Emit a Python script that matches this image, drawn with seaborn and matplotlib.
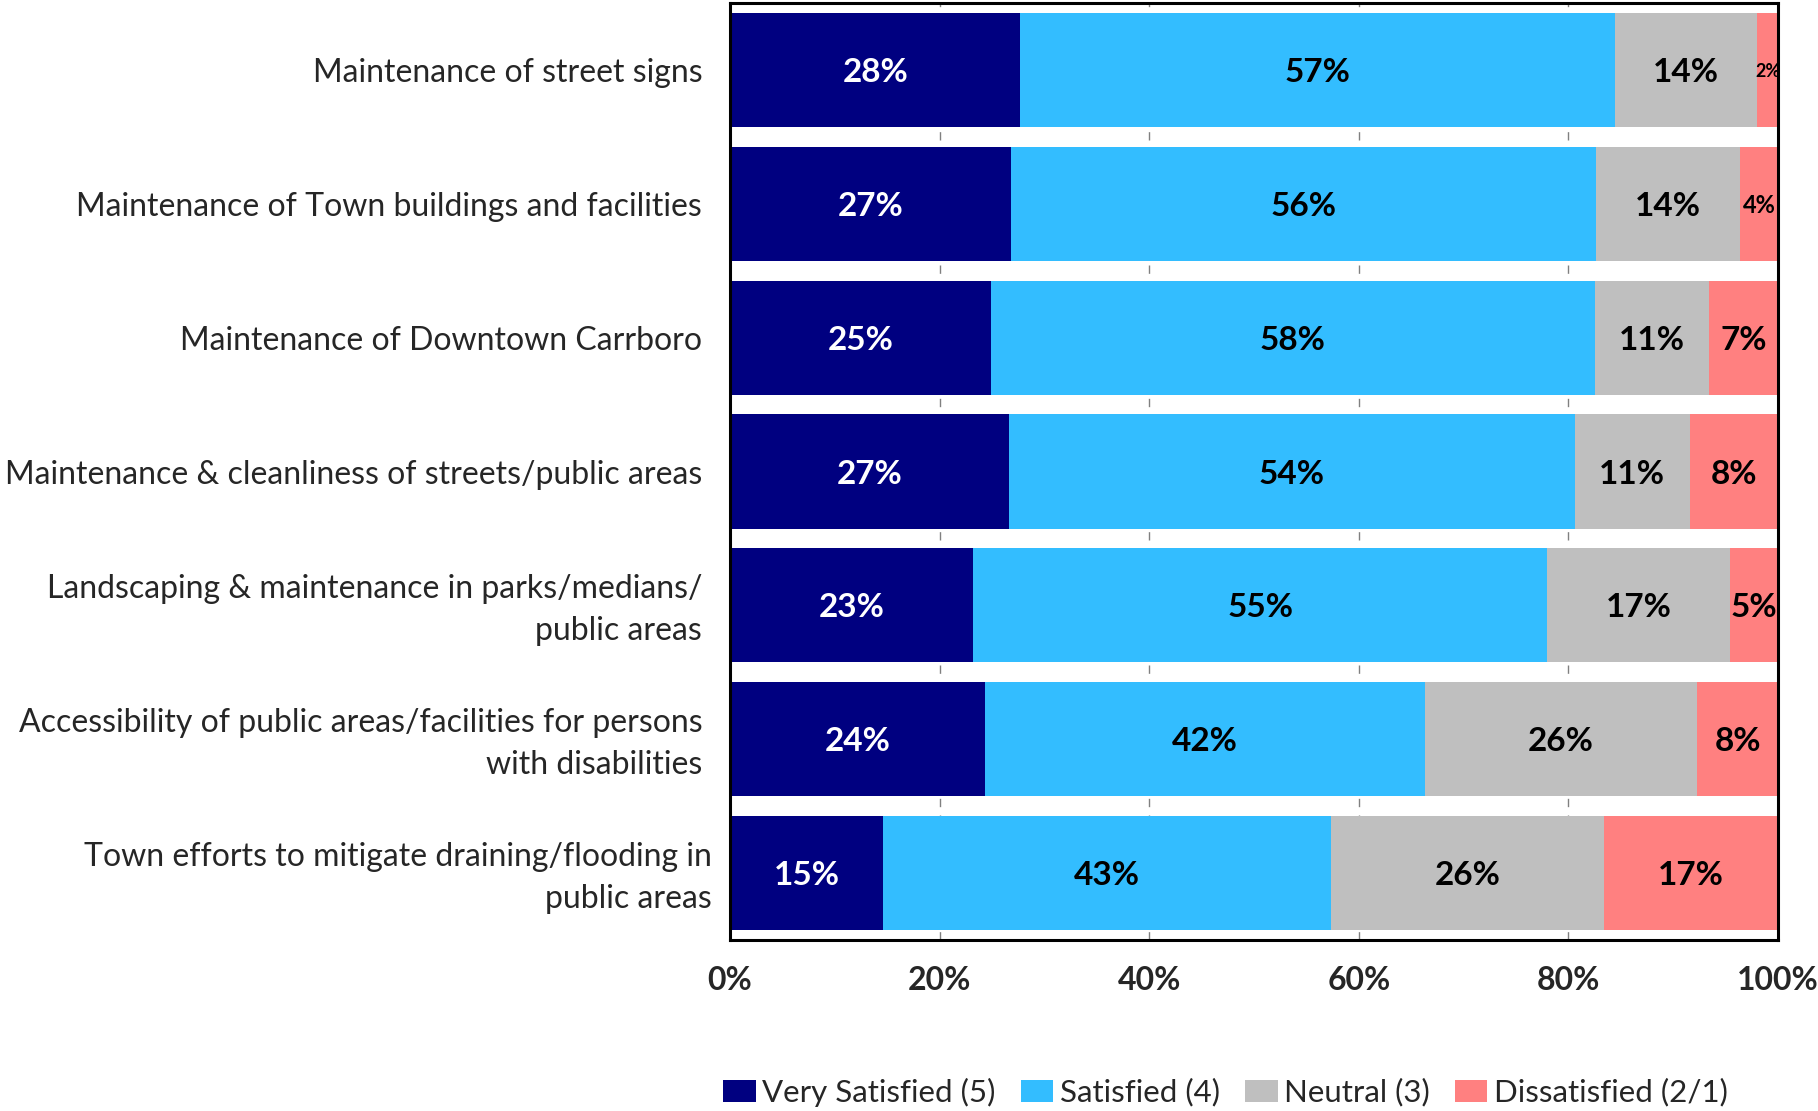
import matplotlib
matplotlib.use("Agg")
import matplotlib.pyplot as plt
import matplotlib.transforms as mtransforms
from matplotlib.patches import Patch
import seaborn as sns
import numpy as np
import pandas as pd

categories = [
    "Maintenance of street signs",
    "Maintenance of Town buildings and facilities",
    "Maintenance of Downtown Carrboro",
    "Maintenance & cleanliness of streets/public areas",
    "Landscaping & maintenance in parks/medians/\npublic areas",
    "Accessibility of public areas/facilities for persons\nwith disabilities",
    "Town efforts to mitigate draining/flooding in\npublic areas",
]
series_names = ["Very Satisfied (5)", "Satisfied (4)", "Neutral (3)", "Dissatisfied (2/1)"]
very_satisfied = [27.7, 26.8, 24.9, 26.6, 23.2, 24.3, 14.6]
satisfied      = [56.7, 55.8, 57.6, 54.0, 54.8, 42.0, 42.7]
neutral        = [13.6, 13.8, 10.9, 11.0, 17.4, 26.0, 26.1]
dissatisfied   = [2.0, 3.6, 6.6, 8.4, 4.6, 7.7, 16.6]
xtick_values = [0, 20, 40, 60, 80, 100]
xtick_labels = ["0%", "20%", "40%", "60%", "80%", "100%"]

colors = ["#000080", "#33BDFF", "#BFBFBF", "#FF8080"]
text_colors = ["white", "black", "black", "black"]

sns.set_theme(style="white")
plt.rcParams["font.family"] = ["Lato", "DejaVu Sans"]

series = [very_satisfied, satisfied, neutral, dissatisfied]
vals = np.array(series)  # shape (4, 7)
cum = np.cumsum(vals, axis=0)

fig = plt.figure(figsize=(18.18, 11.11), dpi=100)
ax = fig.add_axes([730 / 1818, 1 - 940 / 1111, (1778 - 730) / 1818, (940 - 3) / 1111])

# gridlines behind bars
for xv in xtick_values[1:-1]:
    ax.axvline(xv, color="#808080", lw=1.0, ls=(0, (6, 6)), zorder=0)

# draw cumulative bars from longest to shortest
for i in range(3, -1, -1):
    df = pd.DataFrame({"cat": categories, "val": cum[i]})
    sns.barplot(data=df, x="val", y="cat", color=colors[i], width=0.852,
                saturation=1, ax=ax, orient="h", zorder=2, edgecolor="none",
                linewidth=0)

# segment labels
for i in range(4):
    for j in range(len(categories)):
        v = vals[i, j]
        center = cum[i, j] - v / 2
        fs = 24
        if v < 3:
            fs = 13
        elif v < 4:
            fs = 17
        ax.text(center, j, f"{v:.0f}%", ha="center", va="center_baseline",
                color=text_colors[i], fontsize=fs, fontweight="bold", zorder=3)

ax.set_xlim(0, 100)
ax.set_ylim(6.5, -0.5)
ax.set_xticks(xtick_values)
ax.set_xticklabels(xtick_labels, fontsize=23, fontweight="bold")
ax.set_xlabel("")
ax.set_ylabel("")
ax.tick_params(axis="x", length=0, pad=19)
ax.tick_params(axis="y", length=0, pad=20, labelsize=23)
ylabels = ax.get_yticklabels()
for lab in ylabels:
    lab.set_linespacing(1.5)
for sp in ax.spines.values():
    sp.set_visible(True)
    sp.set_color("black")
    sp.set_linewidth(2.2)
    sp.set_zorder(5)

# two-line labels sit a little higher; the last one a bit closer to the axis
for k, lab in enumerate(ylabels):
    dx = 10 / 100 if k == len(ylabels) - 1 else 0
    dy = 4 / 100 if "\n" in categories[k] else 0
    if dx or dy:
        lab.set_transform(lab.get_transform() + mtransforms.ScaledTranslation(dx, dy, fig.dpi_scale_trans))

handles = [Patch(facecolor=c, edgecolor="none") for c in colors]
fig.legend(handles, series_names, loc="center", bbox_to_anchor=(0.674, 0.017),
           ncol=4, frameon=False, fontsize=22.5, handlelength=1.05, handleheight=0.72,
           handletextpad=0.2, columnspacing=0.8, borderaxespad=0, borderpad=0)

fig.savefig("out.png", dpi=100)
